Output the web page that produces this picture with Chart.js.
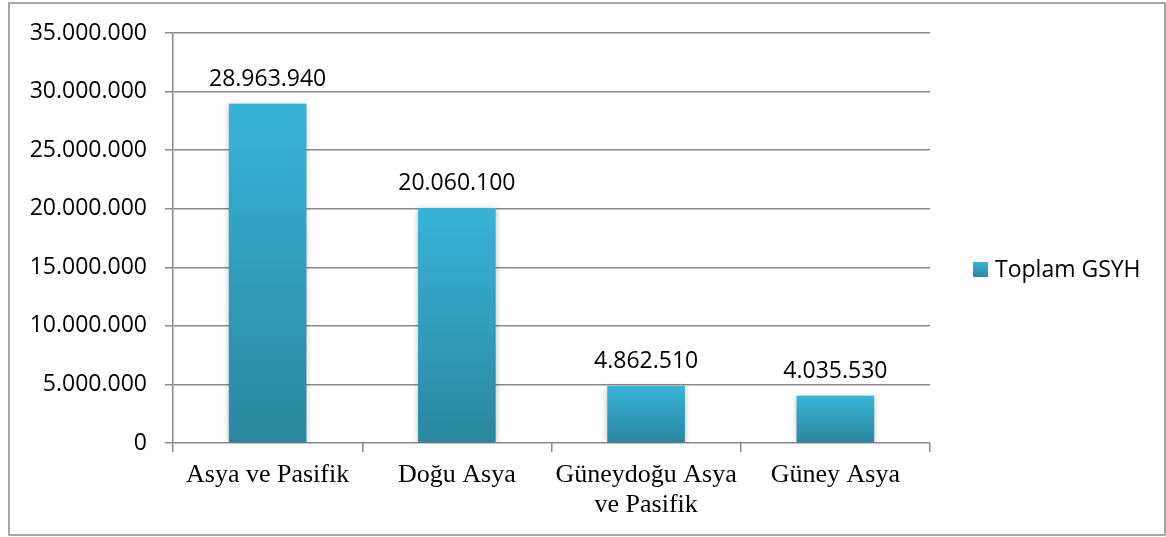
<!DOCTYPE html>
<html>
<head>
<meta charset="utf-8">
<script src="https://cdn.jsdelivr.net/npm/chart.js@4/dist/chart.umd.min.js"></script>
<style>
    body { margin: 0; background: #fff; }
    #gdpChart { display: block; }
</style>
</head>
<body>
<canvas id="gdpChart" width="1166" height="537"></canvas>
<script>
const regions = ['Asya ve Pasifik', 'Doğu Asya', ['Güneydoğu Asya', 've Pasifik'], 'Güney Asya'];
const totalGdp = [28963940, 20060100, 4862510, 4035530];
const yTicks = [0, 5000000, 10000000, 15000000, 20000000, 25000000, 30000000, 35000000];
const seriesLabel = 'Toplam GSYH';

const sansFont = '"Open Sans", sans-serif';
const serifFont = '"Liberation Serif", "Times New Roman", serif';

const formatNumber = (value) => {
    return String(Math.round(value)).replace(/\B(?=(\d{3})+(?!\d))/g, '.');
}

// per-bar vertical gradient: light cyan on top, darker teal at the base
const barGradient = (context) => {
    const chart = context.chart;
    const { ctx, scales } = chart;
    if (!scales.y || context.dataIndex === undefined) return '#34a9cc';
    const top = scales.y.getPixelForValue(context.raw);
    const bottom = scales.y.getPixelForValue(0);
    if (!isFinite(top) || !isFinite(bottom) || top === bottom) return '#34a9cc';
    const gradient = ctx.createLinearGradient(0, top, 0, bottom);
    gradient.addColorStop(0, '#38b3d8');
    gradient.addColorStop(1, '#2a879f');
    return gradient;
}

// outer frame around the whole chart
const framePlugin = {
    id: 'frame',
    beforeDraw(chart) {
        const { ctx } = chart;
        ctx.save();
        ctx.fillStyle = '#fff';
        ctx.fillRect(0, 0, chart.width, chart.height);
        ctx.strokeStyle = '#8a8a8a';
        ctx.lineWidth = 1.5;
        ctx.strokeRect(9, 3, 1156, 532);
        ctx.restore();
    }
};

// soft shadow under the bars
const barShadow = {
    id: 'barShadow',
    beforeDatasetsDraw(chart) {
        const { ctx } = chart;
        ctx.save();
        ctx.shadowColor = 'rgba(0, 0, 0, 0.28)';
        ctx.shadowBlur = 6;
        ctx.shadowOffsetX = 0;
        ctx.shadowOffsetY = 1;
    },
    afterDatasetsDraw(chart) {
        chart.ctx.restore();
    }
};

// value labels above each bar
const valueLabels = {
    id: 'valueLabels',
    afterDatasetsDraw(chart) {
        const { ctx } = chart;
        const meta = chart.getDatasetMeta(0);
        ctx.save();
        ctx.font = `23px ${sansFont}`;
        ctx.fillStyle = '#000';
        ctx.textAlign = 'center';
        ctx.textBaseline = 'alphabetic';
        meta.data.forEach((bar, i) => {
            ctx.fillText(formatNumber(totalGdp[i]), bar.x, bar.y - 18);
        });
        ctx.restore();
    }
};

// legend entry on the right
const sideLegend = {
    id: 'sideLegend',
    afterDraw(chart) {
        const { ctx } = chart;
        const dataset = chart.data.datasets[0];
        ctx.save();
        const swatch = ctx.createLinearGradient(0, 262, 0, 277);
        swatch.addColorStop(0, '#38b3d8');
        swatch.addColorStop(1, '#2a879f');
        ctx.fillStyle = swatch;
        ctx.fillRect(973, 262, 15, 15);
        ctx.font = `23px ${sansFont}`;
        ctx.fillStyle = '#000';
        ctx.textAlign = 'left';
        ctx.textBaseline = 'middle';
        ctx.fillText(dataset.label, 995, 270);
        ctx.restore();
    }
};

new Chart(document.getElementById('gdpChart'), {
    type: 'bar',
    data: {
        labels: regions,
        datasets: [{
            label: seriesLabel,
            data: totalGdp,
            backgroundColor: barGradient,
            borderWidth: 0,
            barPercentage: 0.41,
            categoryPercentage: 1
        }]
    },
    options: {
        responsive: false,
        animation: false,
        layout: {
            padding: { top: 33, right: 236, bottom: 0, left: 0 }
        },
        plugins: {
            legend: { display: false },
            tooltip: { enabled: false }
        },
        scales: {
            x: {
                afterFit: (scale) => { scale.height = 94; },
                grid: {
                    offset: true,
                    drawOnChartArea: false,
                    drawTicks: true,
                    tickLength: 9,
                    color: '#8a8a8a',
                    lineWidth: 1.5
                },
                border: { display: false },
                ticks: {
                    color: '#000',
                    padding: 8,
                    maxRotation: 0,
                    autoSkip: false,
                    font: { family: serifFont, size: 26, lineHeight: 1.15 }
                }
            },
            y: {
                min: 0,
                max: 35000000,
                afterFit: (scale) => { scale.width = 173; },
                afterBuildTicks: (scale) => {
                    scale.ticks = yTicks.map(value => ({ value }));
                },
                grid: {
                    color: '#8a8a8a',
                    lineWidth: 1.5,
                    tickLength: 8
                },
                border: { display: true, color: '#8a8a8a', width: 1.5 },
                ticks: {
                    color: '#000',
                    padding: 18,
                    font: { family: sansFont, size: 23 },
                    callback: (value) => formatNumber(value)
                }
            }
        }
    },
    plugins: [framePlugin, barShadow, valueLabels, sideLegend]
});
</script>
</body>
</html>
